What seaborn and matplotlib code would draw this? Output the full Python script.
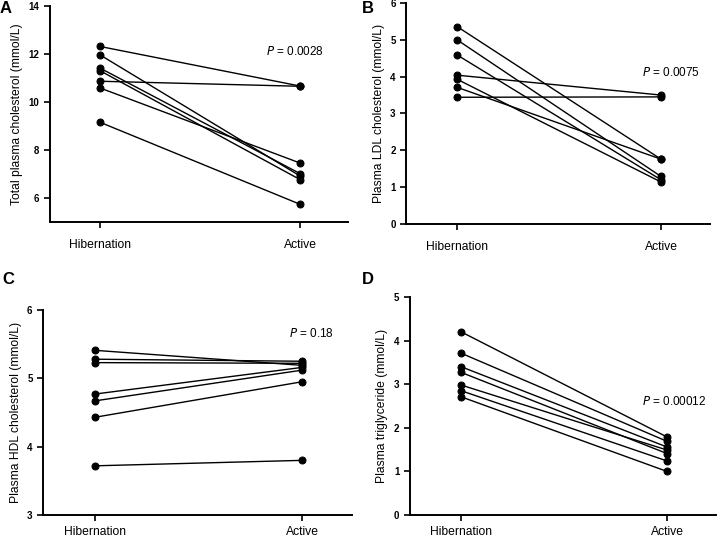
import numpy as np
import pandas as pd
import matplotlib
matplotlib.use('Agg')
import matplotlib.pyplot as plt
import seaborn as sns

sns.set_style('ticks')
plt.rcParams['font.family'] = ['Liberation Sans', 'DejaVu Sans']
plt.rcParams['text.color'] = 'black'
plt.rcParams['axes.labelcolor'] = 'black'
plt.rcParams['xtick.color'] = 'black'
plt.rcParams['ytick.color'] = 'black'

conditions = ['Hibernation', 'Active']

# paired values per animal: (hibernation, active)
total_hib = [12.32, 11.97, 11.42, 11.31, 10.87, 10.59, 9.16]
total_act = [10.67, 6.92, 7.02, 6.77, 10.66, 7.46, 5.74]

ldl_hib = [5.36, 5.00, 4.59, 4.04, 3.93, 3.71, 3.44]
ldl_act = [1.76, 1.29, 1.20, 3.50, 1.14, 1.76, 3.45]

hdl_hib = [5.41, 5.28, 5.23, 4.77, 4.67, 4.43, 3.72]
hdl_act = [5.19, 5.25, 5.22, 5.16, 5.12, 4.95, 3.80]

tg_hib = [4.20, 3.71, 3.40, 3.27, 2.98, 2.85, 2.71]
tg_act = [1.79, 1.69, 1.56, 1.41, 1.49, 1.24, 1.00]

panels = [
    ('A', total_hib, total_act, 'Total plasma cholesterol (mmol/L)', (5, 14), [6, 8, 10, 12, 14],
     ' = 0.0028', (0.83, 12.11)),
    ('B', ldl_hib, ldl_act, 'Plasma LDL cholesterol (mmol/L)', (0, 6), [0, 1, 2, 3, 4, 5, 6],
     ' = 0.0075', (0.905, 4.1)),
    ('C', hdl_hib, hdl_act, 'Plasma HDL cholesterol (mmol/L)', (3, 6), [3, 4, 5, 6],
     ' = 0.18', (0.935, 5.65)),
    ('D', tg_hib, tg_act, 'Plasma triglyceride (mmol/L)', (0, 5), [0, 1, 2, 3, 4, 5],
     ' = 0.00012', (0.88, 2.6)),
]

rects = [
    [0.0694, 0.5896, 0.414, 0.399],
    [0.564, 0.586, 0.422, 0.4085],
    [0.0597, 0.0480, 0.429, 0.3790],
    [0.569, 0.0480, 0.426, 0.4031],
]
xpads = [8, 8, 4, 4]
letter_pos = [(0.0, 0.998), (0.503, 0.998), (0.003, 0.497), (0.503, 0.497)]

fig = plt.figure(figsize=(7.2, 5.41), dpi=100)

for (letter, hib, act, ylabel, ylim, yticks, pval, ppos), rect, xpad, lpos in zip(panels, rects, xpads, letter_pos):
    ax = fig.add_axes(rect)
    n = len(hib)
    df = pd.DataFrame({
        'animal': list(range(n)) * 2,
        'x': [0] * n + [1] * n,
        'value': hib + act,
    })
    sns.lineplot(data=df, x='x', y='value', units='animal', estimator=None,
                 color='black', lw=1.0, marker='o', markersize=5,
                 markeredgecolor='black', ax=ax)
    ax.set_xlim(-0.25, 1.24)
    ax.set_ylim(*ylim)
    ax.set_yticks(yticks)
    ax.set_xticks([0, 1])
    ax.set_xticklabels(conditions, fontsize=8.7)
    ax.set_yticklabels([str(t) for t in yticks], fontsize=7, fontweight='bold')
    ax.set_xlabel('')
    ax.set_ylabel(ylabel, fontsize=8.7)
    ax.tick_params(axis='both', direction='out', length=4, width=1.2, colors='black')
    ax.tick_params(axis='x', pad=xpad)
    for s in ['top', 'right']:
        ax.spines[s].set_visible(False)
    for s in ['left', 'bottom']:
        ax.spines[s].set_linewidth(1.4)
        ax.spines[s].set_color('black')
    ax.text(ppos[0], ppos[1], r'$\it{P}$' + pval, fontsize=8.5, va='center', ha='left')
    fig.text(lpos[0], lpos[1], letter, fontsize=12, fontweight='bold', va='top', ha='left')

fig.savefig('out.png', dpi=100)
